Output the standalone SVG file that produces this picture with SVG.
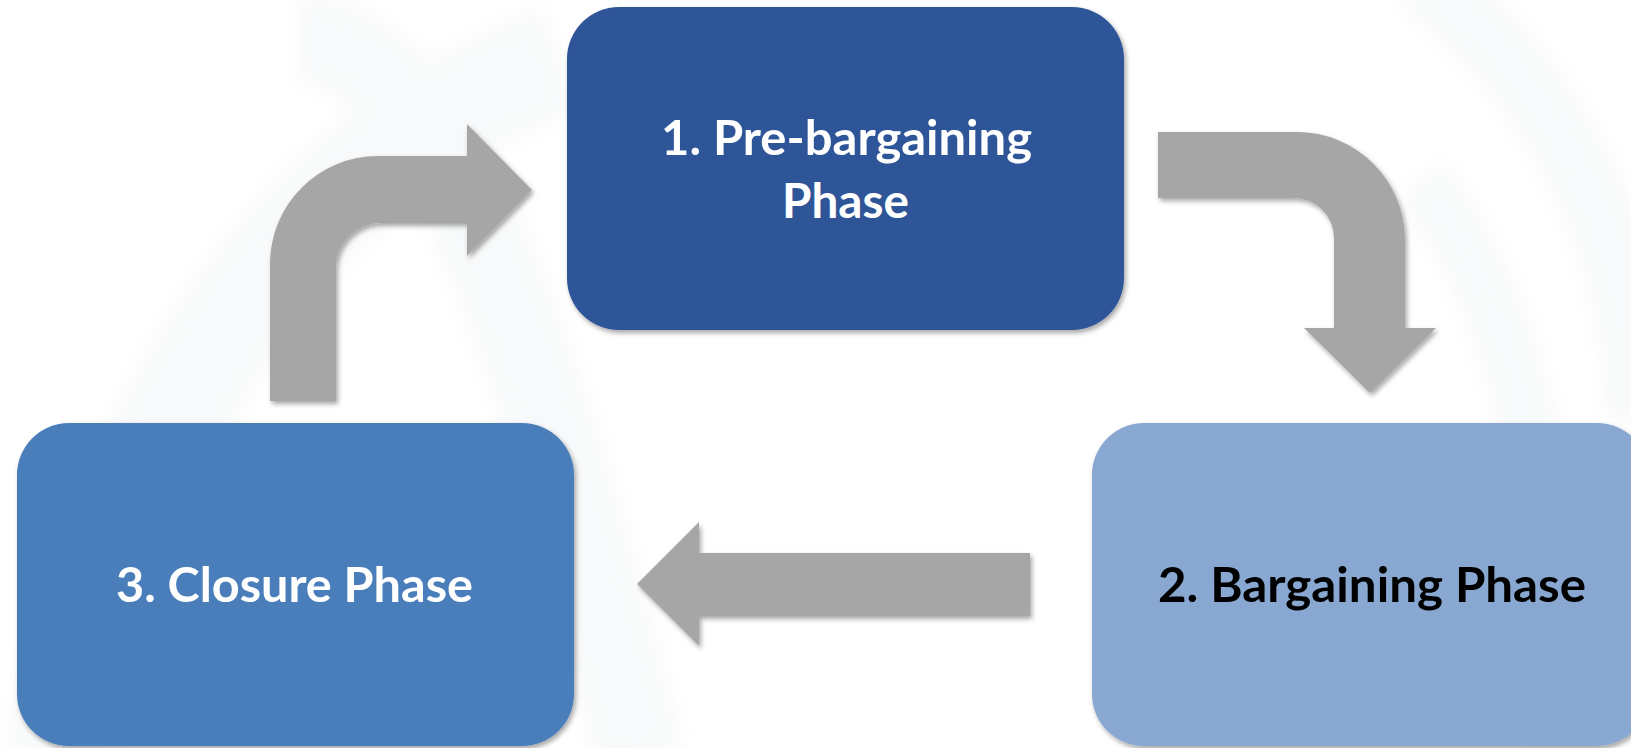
<svg xmlns="http://www.w3.org/2000/svg" width="1631" height="748" viewBox="0 0 1631 748">
  <defs>
    <filter id="shadow" x="-10%" y="-10%" width="125%" height="125%">
      <feDropShadow dx="2" dy="3" stdDeviation="2.5" flood-color="#000" flood-opacity="0.35"/>
    </filter>
    <filter id="haze" x="-20%" y="-20%" width="140%" height="140%">
      <feGaussianBlur stdDeviation="10"/>
    </filter>
  </defs>
  <style>
    .box { filter: url(#shadow); }
    .arrow { fill: #a6a6a6; filter: url(#shadow); }
    .label { font-family: Lato, "Open Sans", "Liberation Sans", sans-serif; font-weight: 700; font-size: 48px; }
    .light { fill: #ffffff; }
    .dark { fill: #000000; }
    .swirl { fill: none; stroke: #f8f9fa; }
  </style>

  <!-- page background with faint swirl bands -->
  <rect x="0" y="0" width="1631" height="748" fill="#ffffff"/>
  <g id="background" filter="url(#haze)">
    <path class="swirl" stroke-width="110" d="M 60 760 C 120 420 300 150 560 60"/>
    <path class="swirl" stroke-width="90" d="M 300 40 C 420 40 520 260 640 760"/>
    <path class="swirl" stroke-width="70" d="M 1420 -20 C 1560 80 1640 260 1640 420"/>
    <path class="swirl" stroke-width="60" d="M 1420 180 C 1520 300 1560 520 1560 760"/>
  </g>

  <!-- connectors -->
  <g id="connectors">
    <!-- closure -> pre-bargaining -->
    <path id="arrow-3-1" class="arrow" d="M 270 401 L 270 264 A 108 108 0 0 1 378 156 L 467 156 L 467 124 L 532 190 L 467 256 L 467 223 L 381 223 A 45 45 0 0 0 336 268 L 336 401 Z"/>
    <!-- pre-bargaining -> bargaining -->
    <path id="arrow-1-2" class="arrow" d="M 1158 132 L 1297 132 A 108 108 0 0 1 1405 240 L 1405 328 L 1436 328 L 1370 393 L 1304 328 L 1334 328 L 1334 238 A 40 40 0 0 0 1294 198 L 1158 198 Z"/>
    <!-- bargaining -> closure -->
    <path id="arrow-2-3" class="arrow" d="M 1030 553 L 699 553 L 699 522 L 637 584 L 699 646 L 699 616 L 1030 616 Z"/>
  </g>

  <!-- nodes -->
  <g id="node-pre-bargaining">
    <rect class="box" x="567" y="7" width="557" height="323" rx="52" ry="52" fill="#2f5597"/>
    <text class="label light" x="661" y="155" textLength="371" lengthAdjust="spacingAndGlyphs">1. Pre-bargaining</text>
    <text class="label light" x="782" y="218" textLength="127" lengthAdjust="spacingAndGlyphs">Phase</text>
  </g>

  <g id="node-bargaining">
    <rect class="box" x="1092" y="423" width="557" height="323" rx="52" ry="52" fill="#88a8d2"/>
    <text class="label dark" x="1158" y="602" textLength="428" lengthAdjust="spacingAndGlyphs">2. Bargaining Phase</text>
  </g>

  <g id="node-closure">
    <rect class="box" x="17" y="423" width="557" height="323" rx="52" ry="52" fill="#4a7eba"/>
    <text class="label light" x="116" y="602" textLength="357" lengthAdjust="spacingAndGlyphs">3. Closure Phase</text>
  </g>
</svg>
